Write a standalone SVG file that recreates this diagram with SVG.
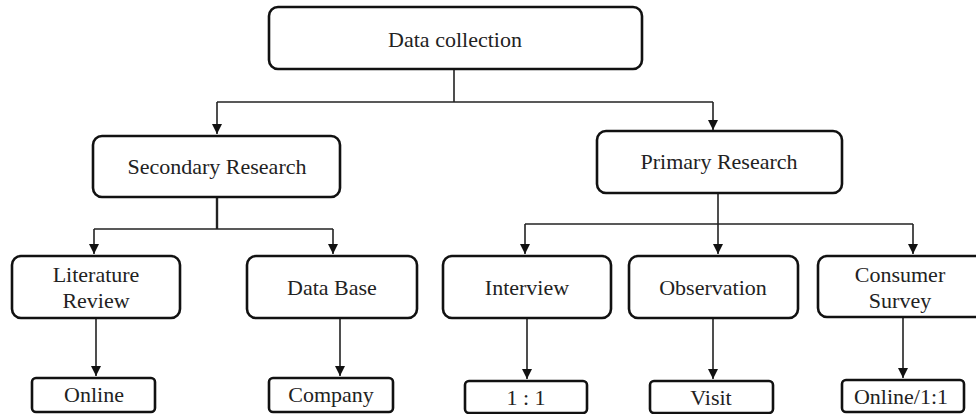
<svg xmlns="http://www.w3.org/2000/svg" width="976" height="414" viewBox="0 0 976 414">
  <defs>
    <marker id="arrow" viewBox="0 0 10 10" refX="10" refY="5" markerWidth="10" markerHeight="10" markerUnits="userSpaceOnUse" orient="auto">
      <path d="M0,0 L10,5 L0,10 Z" fill="#111"/>
    </marker>
    <style>
      .box { fill: #fff; stroke: #111; stroke-width: 2.6; }
      .link { fill: none; stroke: #222; stroke-width: 1.6; }
      .arrow { marker-end: url(#arrow); }
    </style>
  </defs>

  <rect width="976" height="414" fill="#fff"/>

  <!-- connectors -->
  <g id="connectors">
    <!-- Data collection split -->
    <path class="link" d="M454,69 V102"/>
    <path class="link" d="M217,102 H713"/>
    <path class="link arrow" d="M217,102 V134"/>
    <path class="link arrow" d="M713,102 V130"/>
    <!-- Secondary research split -->
    <path class="link" style="stroke-width:2.4" d="M217,197 V229"/>
    <path class="link" d="M94,229 H333"/>
    <path class="link arrow" d="M94,229 V254"/>
    <path class="link arrow" d="M333,229 V254"/>
    <!-- Primary research split -->
    <path class="link" d="M525,224 H913"/>
    <path class="link arrow" d="M718,193 V254"/>
    <path class="link arrow" d="M525,224 V254"/>
    <path class="link arrow" d="M913,224 V254"/>
    <!-- leaves -->
    <path class="link arrow" d="M96,318 V376"/>
    <path class="link arrow" d="M340,318 V376"/>
    <path class="link arrow" d="M527,318 V379"/>
    <path class="link arrow" d="M713,318 V379"/>
    <path class="link arrow" d="M903,317 V378"/>
  </g>

  <!-- node labels share one text style, set on this wrapper -->
  <g font-family="'Liberation Serif', 'Times New Roman', Times, serif" font-size="22" fill="#222" text-anchor="middle">
    <g id="data-collection">
      <rect class="box" x="269" y="7" width="373" height="62" rx="9"/>
      <text x="455" y="47">Data collection</text>
    </g>

    <g id="secondary-research">
      <rect class="box" x="93" y="136" width="247" height="61" rx="9"/>
      <text x="217" y="174">Secondary Research</text>
    </g>

    <g id="primary-research">
      <rect class="box" x="597" y="131" width="245" height="62" rx="9"/>
      <text x="719" y="169">Primary Research</text>
    </g>

    <g id="literature-review">
      <rect class="box" x="12" y="256" width="168" height="62" rx="9"/>
      <text x="96" y="282">Literature</text>
      <text x="96" y="308">Review</text>
    </g>

    <g id="data-base">
      <rect class="box" x="247" y="256" width="170" height="62" rx="9"/>
      <text x="332" y="295">Data Base</text>
    </g>

    <g id="interview">
      <rect class="box" x="443" y="256" width="168" height="62" rx="9"/>
      <text x="527" y="295">Interview</text>
    </g>

    <g id="observation">
      <rect class="box" x="629" y="256" width="169" height="62" rx="9"/>
      <text x="713" y="295">Observation</text>
    </g>

    <g id="consumer-survey">
      <rect class="box" x="818" y="256" width="172" height="61" rx="9"/>
      <text x="900" y="282">Consumer</text>
      <text x="900" y="308">Survey</text>
    </g>

    <g id="online">
      <rect class="box" x="32" y="378" width="123" height="34" rx="4"/>
      <text x="94" y="402">Online</text>
    </g>

    <g id="company">
      <rect class="box" x="269" y="378" width="124" height="34" rx="4"/>
      <text x="331" y="402">Company</text>
    </g>

    <g id="one-to-one">
      <rect class="box" x="465" y="381" width="122" height="32" rx="4"/>
      <text x="526" y="405">1 : 1</text>
    </g>

    <g id="visit">
      <rect class="box" x="650" y="381" width="123" height="32" rx="4"/>
      <text x="711" y="405">Visit</text>
    </g>

    <g id="online-one-to-one">
      <rect class="box" x="842" y="380" width="122" height="32" rx="4"/>
      <text x="901" y="404">Online/1:1</text>
    </g>
  </g>
</svg>
